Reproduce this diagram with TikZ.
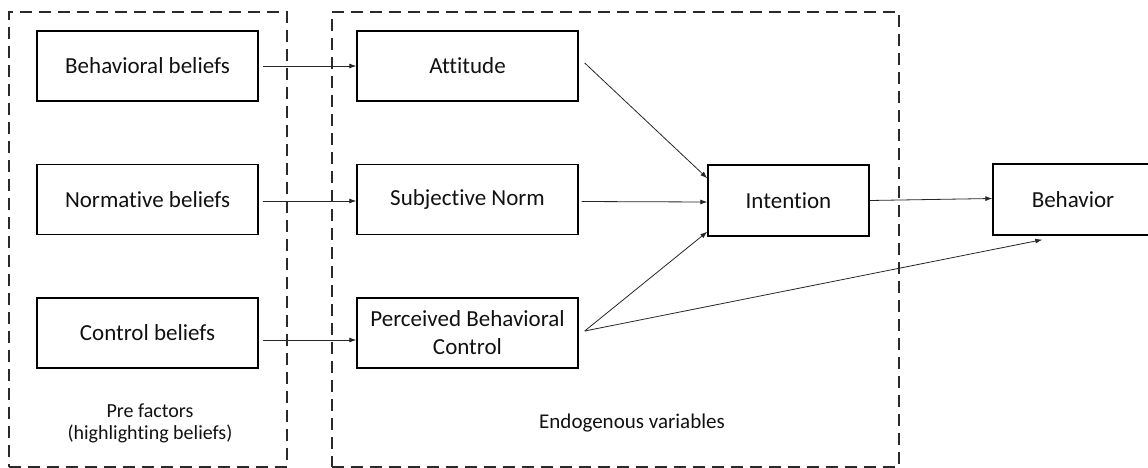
\documentclass[tikz,border=0pt]{standalone}
\usepackage{fontspec}
\setmainfont[Ligatures=NoCommon]{Carlito}
\usetikzlibrary{arrows.meta,calc}
\definecolor{txt}{HTML}{111111}
\definecolor{dashc}{HTML}{2A2A2A}
\begin{document}
\begin{tikzpicture}[x=1pt,y=-1pt,
  box/.style={draw=black,line width=1.4pt,minimum width=221pt,minimum height=70pt,
    inner sep=0pt,align=center,text=txt,font=\fontsize{23}{28}\selectfont},
  groupbox/.style={draw=dashc,line width=1.4pt,dash pattern=on 12pt off 7pt,inner sep=0pt},
  lbl/.style={text=txt,align=center,font=\fontsize{20}{22}\selectfont},
  conn/.style={draw=black!85,line width=0.8pt,-{Latex[length=7pt,width=5pt]}}]
\useasboundingbox (0,0) rectangle (1148,468);
% group frames
\node[groupbox,minimum width=278pt,minimum height=455pt] (pre) at (148,239.5) {};
\node[groupbox,minimum width=567pt,minimum height=455pt] (endo) at (615.5,239.5) {};
% left column
\node[box] (bb) at (147.5,66) {Behavioral beliefs};
\node[box] (nb) at (147.5,199.5) {Normative beliefs};
\node[box] (cb) at (147.5,333) {Control beliefs};
% middle column
\node[box] (att) at (467.5,66) {Attitude};
\node[box] (sn) at (467.5,199.5) {Subjective Norm};
\node[box] (pbc) at (467.5,333) {Perceived Behavioral\\Control};
% right
\node[box,minimum width=161pt,minimum height=71pt] (int) at (788.5,200.5) {Intention};
\node[box,minimum width=160pt,minimum height=71pt] (beh) at (1073,199.5) {Behavior};
% labels
\node[lbl] (prelbl) at (150,423) {Pre factors\\(highlighting beliefs)};
\node[lbl,font=\fontsize{21}{22}\selectfont] (endolbl) at (632,423) {Endogenous variables};
% connectors
\draw[conn,shorten <=4pt] (bb.east) -- (att.west);
\draw[conn,shorten <=4pt] ([yshift=-1.5pt]nb.east) -- ([yshift=-1.5pt]sn.west);
\draw[conn,shorten <=4pt] ([yshift=-7pt]cb.east) -- ([yshift=-7pt]pbc.west);
\draw[conn,shorten <=3pt] ([yshift=-2pt]sn.east) -- ([yshift=-1.5pt]int.west);
\draw[conn] (int.east) -- ([yshift=1pt]beh.west);
\coordinate (attout) at ($(att.east)+(6,-3)$);
\coordinate (pbcout) at ($(pbc.east)+(6,-2)$);
\draw[conn] (attout) -- ($(int.north west)+(0,14)$);
\draw[conn] (pbcout) -- ($(int.south west)+(0,-5)$);
\draw[conn] (pbcout) -- ($(beh.south west)+(50,4)$);
\end{tikzpicture}
\end{document}
